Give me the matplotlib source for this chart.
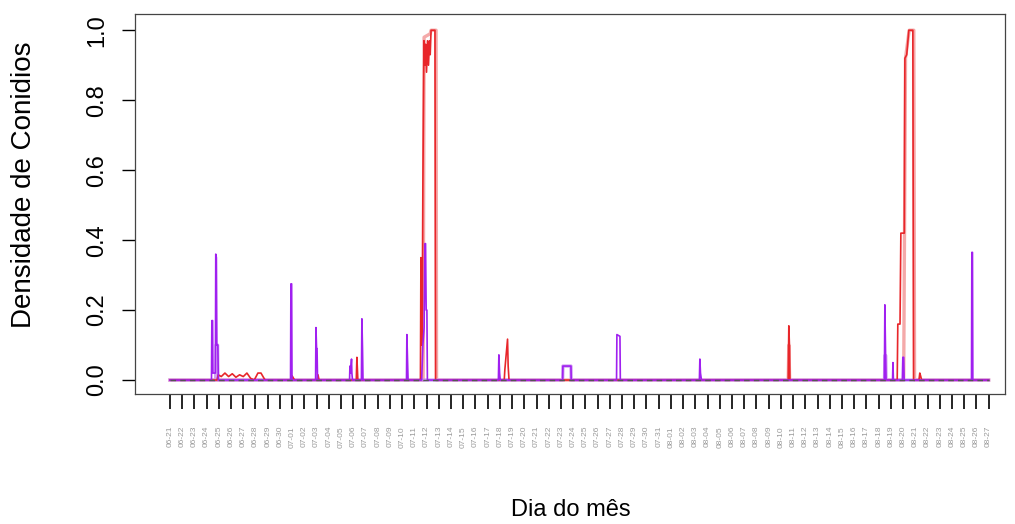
import numpy as np
import pandas as pd
import matplotlib
matplotlib.use("Agg")
import matplotlib.pyplot as plt

plt.rcParams['font.family'] = ['Liberation Sans', 'DejaVu Sans']

# eixo x: dias (0 = 06-21)
dias = pd.date_range("2015-06-21", "2015-08-27", freq="D")
rotulos = [d.strftime("%m-%d") for d in dias]

# serie roxa (dia, densidade)
roxo_t = [0, 3.40, 3.43, 3.49, 3.52, 3.72, 3.75, 3.80, 3.84, 3.92, 3.96,
          9.87, 9.90, 9.96, 9.99, 11.92, 11.95, 12.00, 12.04, 12.08,
          14.70, 14.73, 14.78, 14.86, 14.89, 14.94, 15.67, 15.71, 15.76, 15.80,
          19.36, 19.39, 19.45, 19.49, 20.60, 20.70, 20.80, 20.87, 20.92, 20.97,
          21.03, 21.07, 26.88, 26.92, 26.98, 27.03, 32.14, 32.16, 32.82, 32.84,
          36.55, 36.58, 36.83, 36.86, 43.33, 43.37, 43.42, 43.50,
          58.47, 58.51, 58.57, 58.61, 59.14, 59.17, 59.21, 59.94, 59.98,
          60.05, 60.09, 65.60, 65.63, 65.68, 65.71, 67.0]
roxo_y = [0, 0, 0.17, 0.17, 0.02, 0.02, 0.36, 0.35, 0.10, 0.10, 0,
          0, 0.275, 0.275, 0, 0, 0.15, 0.09, 0.09, 0,
          0, 0.04, 0.02, 0.06, 0.02, 0, 0, 0.175, 0.09, 0,
          0, 0.13, 0.05, 0, 0, 0.10, 0.15, 0.39, 0.39, 0.20,
          0.20, 0, 0, 0.072, 0.02, 0, 0, 0.04, 0.04, 0,
          0, 0.13, 0.125, 0, 0, 0.06, 0.02, 0,
          0, 0.215, 0.07, 0, 0, 0.05, 0, 0, 0.065,
          0.065, 0, 0, 0.365, 0.365, 0, 0]

# serie vermelha (dia, densidade)
verm_t = [0, 3.85, 3.95, 4.20, 4.50, 4.80, 5.10, 5.40, 5.70, 6.00, 6.30, 6.60,
          6.90, 7.20, 7.45, 7.70, 7.80, 9.95, 10.00, 10.20, 12.05, 12.12, 12.20,
          15.25, 15.30, 15.38, 20.50, 20.54, 20.60, 20.66, 20.70, 20.79, 20.85,
          20.92, 21.00, 21.08, 21.16, 21.24, 21.30, 21.37, 21.69, 21.74,
          27.36, 27.41, 27.63, 27.68, 27.75, 50.60, 50.65, 50.70, 50.74,
          59.52, 59.57, 59.75, 59.82, 60.10, 60.15, 60.30, 60.47, 60.80, 60.86,
          61.30, 61.37, 61.45, 61.52, 67.0]
verm_y = [0, 0, 0.015, 0.01, 0.02, 0.01, 0.018, 0.008, 0.015, 0.01, 0.02, 0.005,
          0, 0.02, 0.02, 0.005, 0, 0, 0.012, 0, 0, 0.015, 0,
          0, 0.065, 0, 0, 0.35, 0.10, 0.20, 0.55, 0.97, 0.90,
          0.96, 0.88, 0.97, 0.90, 0.97, 0.93, 1.0, 1.0, 0,
          0, 0.03, 0.117, 0.04, 0, 0, 0.155, 0.10, 0,
          0, 0.16, 0.16, 0.42, 0.42, 0.92, 0.93, 1.0, 1.0, 0,
          0, 0.02, 0.01, 0, 0]

# linhas claras (suavizadas)
rosa_t = [0, 20.72, 20.80, 21.30, 21.37, 21.78, 21.82, 50.60, 50.65, 50.72,
          60.05, 60.20, 60.50, 60.88, 60.94, 67.0]
rosa_y = [0, 0, 0.98, 0.99, 1.0, 1.0, 0, 0, 0.10, 0,
          0, 0.92, 1.0, 1.0, 0, 0]
lilas_t = [0, 3.74, 3.77, 3.90, 3.93, 32.14, 32.16, 32.82, 32.84,
           58.48, 58.51, 58.58, 58.61, 67.0]
lilas_y = [0, 0, 0.10, 0.10, 0, 0, 0.04, 0.04, 0,
           0, 0.07, 0.07, 0, 0]

fig = plt.figure(figsize=(10.15, 5.24), dpi=100)
ax = fig.add_axes([0.133, 0.248, 0.857, 0.725])

ax.plot(rosa_t, rosa_y, color='#f39a9a', linewidth=2.4, alpha=0.85)
ax.plot(lilas_t, lilas_y, color='#c98ef0', linewidth=2.4, alpha=0.85)
ax.plot(verm_t, verm_y, color='#e8262a', linewidth=1.2)
ax.plot(roxo_t, roxo_y, color='#a020f0', linewidth=1.2)
ax.plot([0, 67], [0, 0], color='#555555', linewidth=1.0, linestyle=(0, (4, 3)))

ax.set_xlim(-2.86, 68.33)
ax.set_ylim(-0.04, 1.046)

ax.set_xticks(np.arange(len(rotulos)))
ax.set_xticklabels(rotulos, rotation=90, fontsize=6, color='#9a9a9a')
ax.set_yticks([0, 0.2, 0.4, 0.6, 0.8, 1.0])
ax.set_yticklabels(['0.0', '0.2', '0.4', '0.6', '0.8', '1.0'], rotation=90,
                   va='center', fontsize=17)
ax.tick_params(axis='x', length=11, width=1.2, pad=12)
ax.tick_params(axis='y', length=9.5, width=1, pad=10)

for s in ax.spines.values():
    s.set_linewidth(0.9)
    s.set_color('#444444')

ax.set_xlabel('Dia do mês', fontsize=17)
ax.xaxis.set_label_coords(0.501, -0.275)
ax.set_ylabel('Densidade de Conidios', fontsize=20)
ax.yaxis.set_label_coords(-0.113, 0.551)

fig.savefig('out.png')
